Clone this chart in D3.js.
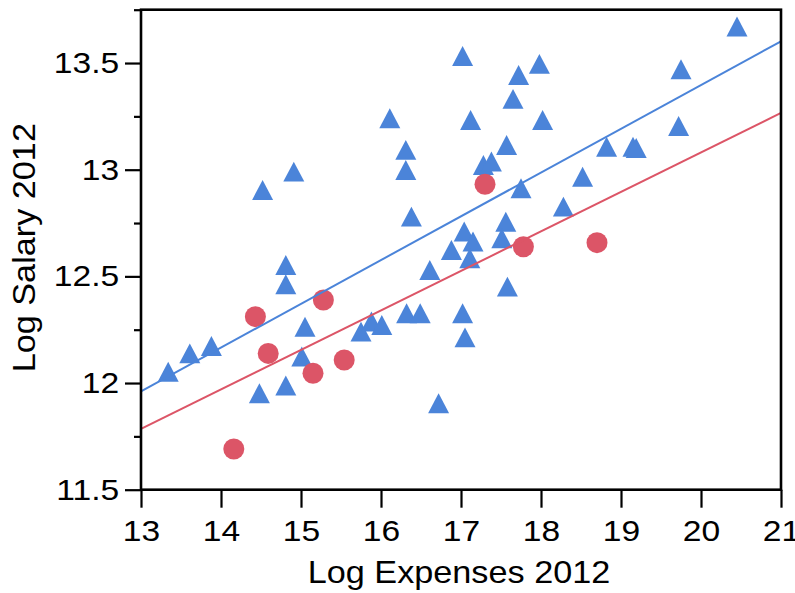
<!DOCTYPE html>
<html>
<head>
<meta charset="utf-8">
<script src="https://cdn.jsdelivr.net/npm/d3@7"></script>
<style>
  html, body { margin: 0; padding: 0; background: #fff; }
  svg { display: block; }
  text { font-family: "Liberation Sans", Arial, Helvetica, sans-serif; fill: #000; }
</style>
</head>
<body>
<svg id="chart" width="795" height="593"></svg>
<script>
// blue triangles
var blueX = [13.34, 13.61, 13.88, 14.52, 14.91, 14.81, 14.81, 14.48, 14.81, 15.05,
  15.01, 15.75, 15.88, 16.01, 16.11, 16.31, 16.31, 16.38, 16.32, 16.49,
  16.61, 16.72, 17.02, 17.12, 16.88, 17.04, 17.15, 17.11, 17.02, 17.05,
  17.28, 17.38, 17.57, 17.65, 17.72, 17.98, 18.02, 17.75, 17.56, 17.51,
  17.58, 18.28, 18.52, 18.82, 19.15, 19.19, 19.72, 19.75, 20.45];
var blueY = [12.053, 12.139, 12.174, 12.905, 12.991, 12.553, 12.463, 11.952, 11.988, 12.264,
  12.124, 12.241, 12.288, 12.272, 13.241, 13.093, 12.999, 12.780, 12.327, 12.327,
  12.530, 11.905, 13.533, 13.233, 12.624, 12.710, 12.663, 12.585, 12.327, 12.214,
  13.022, 13.038, 13.116, 13.332, 13.444, 13.496, 13.233, 12.913, 12.756, 12.679,
  12.452, 12.827, 12.967, 13.108, 13.108, 13.102, 13.205, 13.471, 13.671];

// red circles
var redX = [14.16, 14.43, 14.59, 15.28, 15.15, 15.54, 17.30, 17.78, 18.70];
var redY = [11.691, 12.311, 12.139, 12.389, 12.046, 12.108, 12.932, 12.639, 12.658];

// fitted lines, value at x = 13 and x = 21
var fitX = [13, 21];
var blueFit = [11.961, 13.602];
var redFit = [11.785, 13.266];

var xTicks = [13, 14, 15, 16, 17, 18, 19, 20, 21];
var yTicks = [11.5, 12, 12.5, 13, 13.5];
var yMinorTicks = [11.75, 12.25, 12.75, 13.25, 13.75];

var blue = '#4b84d9';
var red = '#dc5567';

var svg = d3.select('#chart');
var margin = {left: 141, right: 14, top: 9.7, bottom: 103.3};
var width = 795 - margin.left - margin.right,
    height = 593 - margin.top - margin.bottom;

var x = d3.scaleLinear().domain([13, 21]).range([0, width]);
var y = d3.scaleLinear().domain([11.5, 13.75]).range([height, 0]);

var g = svg.append('g').attr('transform', 'translate(' + margin.left + ',' + margin.top + ')');

// triangle centred on its bounding box
var triUp = {
  draw: function(context, size) {
    var w = size, h = size * 0.95;
    context.moveTo(0, -h / 2);
    context.lineTo(w / 2, h / 2);
    context.lineTo(-w / 2, h / 2);
    context.closePath();
  }
};

// axes
var xAxis = g.append('g')
  .attr('transform', 'translate(0,' + height + ')')
  .call(d3.axisBottom(x).tickValues(xTicks).tickSize(18).tickSizeOuter(0).tickPadding(12).tickFormat(d3.format('d')));

var yMinor = g.append('g')
  .call(d3.axisLeft(y).tickValues(yMinorTicks).tickSize(7).tickSizeOuter(0).tickFormat(''));

var yAxis = g.append('g')
  .call(d3.axisLeft(y).tickValues(yTicks).tickSize(16).tickSizeOuter(0).tickFormat(function(d) { return d; }));

[xAxis, yMinor, yAxis].forEach(function(a) {
  a.select('.domain').remove();
  a.selectAll('line').attr('stroke', '#000').attr('stroke-width', 2.2);
});

xAxis.selectAll('text')
  .attr('font-size', 30)
  .attr('transform', 'scale(1.12,1)');

yAxis.selectAll('text')
  .attr('font-size', 30)
  .attr('x', -19.5)
  .attr('transform', 'scale(1.12,1)');

// points
var bluePts = blueX.map(function(d, i) { return [d, blueY[i]]; });
var redPts = redX.map(function(d, i) { return [d, redY[i]]; });

g.selectAll('.tri').data(bluePts).enter().append('path')
  .attr('class', 'tri')
  .attr('d', d3.symbol().type(triUp).size(21))
  .attr('transform', function(d) { return 'translate(' + x(d[0]) + ',' + y(d[1]) + ')'; })
  .attr('fill', blue);

g.selectAll('.dot').data(redPts).enter().append('circle')
  .attr('class', 'dot')
  .attr('cx', function(d) { return x(d[0]); })
  .attr('cy', function(d) { return y(d[1]); })
  .attr('r', 10.5)
  .attr('fill', red);

// fit lines
var line = d3.line().x(function(d) { return x(d[0]); }).y(function(d) { return y(d[1]); });

g.append('path')
  .datum(fitX.map(function(d, i) { return [d, blueFit[i]]; }))
  .attr('d', line)
  .attr('fill', 'none')
  .attr('stroke', blue)
  .attr('stroke-width', 2);

g.append('path')
  .datum(fitX.map(function(d, i) { return [d, redFit[i]]; }))
  .attr('d', line)
  .attr('fill', 'none')
  .attr('stroke', red)
  .attr('stroke-width', 2);

// frame
g.append('rect')
  .attr('width', width)
  .attr('height', height)
  .attr('fill', 'none')
  .attr('stroke', '#000')
  .attr('stroke-width', 2.6);

// axis titles
svg.append('text')
  .attr('transform', 'translate(' + (margin.left + width / 2 - 2) + ',583) scale(1.07,1)')
  .attr('text-anchor', 'middle')
  .attr('font-size', 32)
  .text('Log Expenses 2012');

svg.append('text')
  .attr('transform', 'translate(35,' + (margin.top + height / 2 - 2) + ') rotate(-90) scale(1.07,1)')
  .attr('text-anchor', 'middle')
  .attr('font-size', 32)
  .text('Log Salary 2012');
</script>
</body>
</html>
